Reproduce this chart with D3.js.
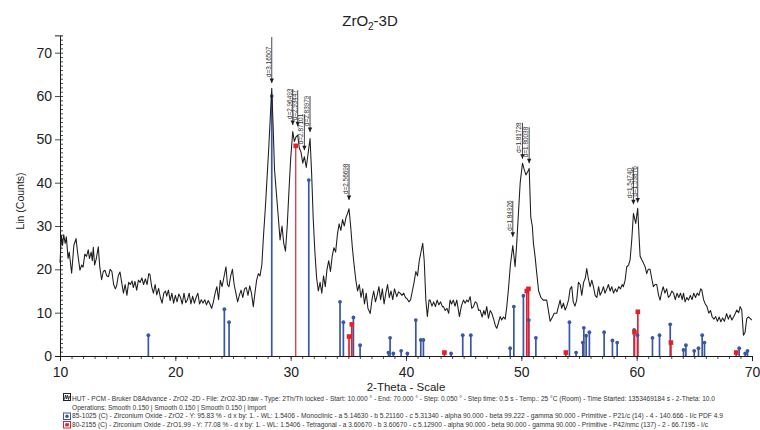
<!DOCTYPE html>
<html><head><meta charset="utf-8">
<script src="https://cdn.jsdelivr.net/npm/d3@7"></script>
<style>
body{margin:0;background:#fff;}
svg{display:block;font-family:"Liberation Sans",Arial,Helvetica,sans-serif;}
</style></head><body>
<svg id="chart" width="760" height="430"></svg>
<script>
// Measured scan: 2-theta (deg) and intensity (counts)
const twoTheta = [
10.00,10.12,10.22,10.32,10.45,10.55,10.70,10.80,11.01,11.20,11.39,11.52,11.73,11.88,12.00,12.15,12.30,12.45,12.55,12.70,12.80,12.89,13.00,13.15,13.32,13.45,13.61,13.75,13.90,14.05,14.20,14.35,14.50,14.65,14.80,14.91,15.05,15.20,15.35,15.50,15.65,15.80,15.95,16.10,16.25,16.36,16.50,16.65,16.80,16.95,17.10,17.25,17.40,17.55,17.70,17.80,17.95,18.10,18.25,18.39,18.55,18.70,18.85,19.00,19.15,19.25,19.40,19.55,19.70,19.85,20.00,20.15,20.30,20.45,20.60,20.75,20.90,21.05,21.20,21.35,21.50,21.65,21.80,21.95,22.10,22.25,22.40,22.55,22.70,22.85,23.00,23.15,23.30,23.45,23.60,23.75,23.90,24.05,24.20,24.39,24.52,24.65,24.80,24.95,25.10,25.25,25.40,25.55,25.70,25.85,26.00,26.15,26.30,26.45,26.60,26.76,26.90,27.05,27.20,27.34,27.50,27.65,27.80,27.95,28.10,28.25,28.36,28.48,28.60,28.75,28.90,29.08,29.25,29.40,29.55,29.70,29.85,30.00,30.18,30.32,30.45,30.61,30.75,30.90,31.05,31.19,31.35,31.50,31.68,31.82,31.95,32.10,32.25,32.40,32.55,32.70,32.85,33.00,33.15,33.30,33.45,33.60,33.75,33.90,34.05,34.20,34.35,34.50,34.65,34.80,34.95,35.06,35.20,35.35,35.50,35.65,35.80,35.95,36.10,36.25,36.40,36.55,36.70,36.90,37.05,37.20,37.35,37.50,37.65,37.80,37.95,38.10,38.25,38.40,38.55,38.70,38.85,39.00,39.20,39.35,39.49,39.65,39.80,39.95,40.10,40.25,40.40,40.55,40.70,40.85,41.00,41.15,41.30,41.45,41.58,41.72,41.85,42.00,42.09,42.25,42.40,42.55,42.70,42.85,43.00,43.15,43.25,43.40,43.55,43.70,43.82,43.95,44.10,44.25,44.40,44.52,44.63,44.80,44.98,45.13,45.27,45.40,45.56,45.70,45.85,46.00,46.14,46.30,46.43,46.60,46.75,46.86,47.00,47.15,47.30,47.44,47.60,47.75,47.87,48.00,48.16,48.30,48.45,48.60,48.74,48.90,49.05,49.26,49.46,49.60,49.75,49.90,50.10,50.25,50.40,50.55,50.68,50.82,50.95,51.05,51.19,51.34,51.50,51.70,51.90,52.20,52.50,52.70,52.85,53.07,53.36,53.50,53.65,53.80,53.94,54.10,54.23,54.37,54.50,54.65,54.80,54.95,55.10,55.24,55.40,55.55,55.67,55.80,55.96,56.11,56.25,56.40,56.55,56.70,56.83,57.00,57.12,57.25,57.41,57.55,57.70,57.84,58.00,58.15,58.28,58.45,58.60,58.75,58.85,59.00,59.14,59.30,59.43,59.58,59.72,59.92,60.09,60.20,60.30,60.44,60.58,60.73,60.87,61.00,61.16,61.30,61.45,61.60,61.74,61.90,62.03,62.15,62.30,62.45,62.60,62.75,62.90,63.05,63.20,63.35,63.50,63.65,63.80,63.95,64.06,64.20,64.35,64.50,64.65,64.80,64.95,65.10,65.25,65.40,65.55,65.65,65.80,65.95,66.10,66.25,66.40,66.55,66.70,66.85,67.00,67.15,67.30,67.45,67.60,67.80,67.95,68.10,68.25,68.40,68.55,68.68,68.85,68.97,69.11,69.26,69.40,69.55,69.70,69.84,69.98
];
const counts = [
21.5,27.8,25.5,28.0,26.0,27.5,22.5,24.0,19.1,25.5,27.1,24.0,19.8,21.0,20.5,23.5,23.0,24.5,22.5,24.0,22.0,25.1,21.0,22.5,25.2,20.5,17.6,19.5,19.8,18.5,18.3,20.0,19.5,16.5,15.5,16.2,18.5,19.4,17.0,14.5,16.5,14.0,17.0,16.5,17.3,15.8,17.2,15.2,17.5,17.0,18.0,16.5,17.8,16.5,19.0,18.8,16.0,14.5,16.5,14.1,15.6,13.5,12.2,14.5,15.0,13.8,15.2,12.8,14.5,12.2,14.0,12.5,14.3,13.5,12.0,14.5,12.3,13.0,14.5,12.0,13.8,12.2,13.5,14.5,12.0,13.0,12.2,13.0,11.8,12.8,12.0,11.0,12.5,14.5,16.0,13.0,17.5,16.0,18.0,20.6,16.5,16.0,18.5,20.0,16.5,14.5,12.5,14.0,15.2,13.5,15.5,15.8,14.0,16.2,14.5,11.4,14.5,17.5,19.0,18.5,21.0,28.0,34.0,41.0,48.0,56.0,61.8,53.0,43.0,38.0,33.0,26.8,30.0,26.0,24.2,30.0,38.0,45.5,51.8,49.5,50.5,51.0,48.0,47.0,44.5,46.0,43.5,46.5,50.2,42.0,32.0,24.0,18.0,15.0,17.0,14.5,18.5,16.0,20.0,22.0,19.5,23.0,25.0,24.0,28.0,30.5,29.0,31.5,30.0,32.0,33.0,34.0,30.0,25.0,21.0,17.5,15.0,16.5,13.5,15.5,12.0,14.5,11.0,9.8,13.0,15.0,12.5,14.0,16.0,13.0,15.5,12.0,14.5,16.5,13.5,15.0,13.0,15.5,13.7,14.8,14.5,14.0,14.5,13.5,13.2,12.5,13.0,15.0,17.0,19.5,18.5,22.0,24.0,26.0,22.0,13.0,9.1,12.9,12.9,11.5,12.5,11.4,12.9,11.8,12.5,11.4,11.4,10.5,11.0,9.85,12.9,12.0,12.9,11.5,12.9,11.0,9.1,11.5,12.9,12.2,12.9,12.5,13.7,11.0,11.4,12.5,12.2,10.5,10.6,9.0,10.5,9.5,11.4,8.7,10.5,9.85,8.5,7.0,6.4,7.5,9.1,8.3,9.0,8.5,11.4,16.0,21.0,25.5,20.6,26.0,33.0,40.0,44.5,43.0,41.8,42.5,43.3,32.0,30.0,26.0,23.0,19.0,15.0,13.5,12.9,12.9,8.0,9.0,9.85,9.85,12.9,11.0,12.2,10.6,11.5,13.0,15.5,16.0,12.5,11.5,12.9,17.0,16.5,14.0,17.0,18.0,20.2,18.0,16.0,17.5,16.0,14.0,13.5,16.0,14.0,15.0,16.0,14.5,15.5,16.5,15.0,16.0,14.5,15.5,14.8,16.0,15.5,16.5,16.0,17.5,20.6,21.0,22.2,27.0,32.9,30.6,34.1,28.0,23.0,22.2,21.5,20.6,19.0,20.0,20.0,18.0,16.0,16.5,16.5,14.0,12.9,14.5,16.0,14.5,15.5,13.5,14.0,15.0,14.5,13.0,14.5,13.5,14.5,13.0,14.5,12.5,13.5,12.9,14.0,13.0,14.5,13.5,14.5,14.0,15.5,15.2,13.0,12.0,11.4,9.9,10.5,9.0,8.5,9.1,8.0,9.0,7.9,8.8,8.0,9.8,8.5,9.5,8.3,9.0,9.8,10.6,10.0,11.4,10.6,4.8,5.5,8.7,9.0,8.7,8.3
];

// Reference pattern 85-1025, ZrO2 monoclinic
const monoPos = [17.66,24.25,24.66,28.36,31.57,34.28,34.57,35.44,36.02,38.48,38.62,38.90,39.58,40.12,40.85,41.28,41.51,43.91,44.92,45.62,49.03,49.35,50.18,50.65,51.26,54.17,54.75,55.33,55.42,55.62,55.90,57.18,57.90,58.31,59.78,60.07,61.37,61.98,62.91,64.06,64.27,64.99,65.36,65.68,65.88,68.89,69.41,69.61];
const monoInt = [4.8,10.8,7.8,60.0,40.6,12.5,7.8,8.9,2.5,0.8,4.2,0.6,1.2,0.6,8.3,3.7,3.7,0.6,4.8,4.8,1.8,11.4,13.9,8.3,4.2,7.8,0.8,3.1,6.5,4.7,5.5,5.5,3.6,3.1,6.0,4.8,4.2,4.8,7.3,1.4,2.5,1.2,1.8,4.8,3.1,1.8,0.6,1.2];

// Reference pattern 80-2155, ZrO1.99 tetragonal
const tetraPos = [30.44,35.06,35.30,43.33,50.47,50.62,53.86,59.81,60.10,62.97,68.63];
const tetraInt = [48.5,4.5,7.3,0.8,15.0,15.5,0.8,5.5,10.2,3.1,0.8];

// Peak search results (position, marked height, d-spacing)
const peakPos = [28.36,30.18,30.61,31.19,31.68,35.06,49.26,50.10,50.68,59.72,60.09];
const peakTip = [63.0,53.3,53.0,47.5,51.7,36.0,27.5,45.5,44.5,35.0,35.4];
const peakLabels = ["d=3.16507","d=2.96493","d=2.93447","d=2.87101","d=2.83979","d=2.56698","d=1.84926","d=1.81728","d=1.80038","d=1.54740","d=1.53876"];

const xTicks = [10,20,30,40,50,60,70];
const yTicks = [0,10,20,30,40,50,60,70];
const xTitle = "2-Theta - Scale";
const yTitle = "Lin (Counts)";

const legendLines = [
 "HUT - PCM - Bruker D8Advance - ZrO2 -2D - File: ZrO2-3D.raw - Type: 2Th/Th locked - Start: 10.000 ° - End: 70.000 ° - Step: 0.050 ° - Step time: 0.5 s - Temp.: 25 °C (Room) - Time Started: 1353469184 s - 2-Theta: 10.0",
 "Operations: Smooth 0.150 | Smooth 0.150 | Smooth 0.150 | Import",
 "85-1025 (C) - Zirconium Oxide - ZrO2 - Y: 95.83 % - d x by: 1. - WL: 1.5406 - Monoclinic - a 5.14630 - b 5.21160 - c 5.31340 - alpha 90.000 - beta 99.222 - gamma 90.000 - Primitive - P21/c (14) - 4 - 140.666 - I/c PDF 4.9",
 "80-2155 (C) - Zirconium Oxide - ZrO1.99 - Y: 77.08 % - d x by: 1. - WL: 1.5406 - Tetragonal - a 3.60670 - b 3.60670 - c 5.12900 - alpha 90.000 - beta 90.000 - gamma 90.000 - Primitive - P42/nmc (137) - 2 - 66.7195 - I/c"
];

// ---- drawing ----
const svg = d3.select("#chart");
const BLUE = "#3a57a6", RED = "#e3202a", INK = "#1c1c1c";

const x = d3.scaleLinear().domain([10, 70]).range([60, 752]);
const y = d3.scaleLinear().domain([0, 70]).range([356, 52.7]);
const yTop = 74;

// title with subscript
const title = svg.append("text").attr("x", 370).attr("y", 26)
  .attr("text-anchor", "middle").attr("font-size", 15).attr("fill", "#222");
title.append("tspan").text("ZrO");
title.append("tspan").text("2").attr("font-size", 10).attr("dy", 4);
title.append("tspan").text("-3D").attr("dy", -4);

// reference sticks
const sticks = svg.append("g");
sticks.selectAll("line.mono").data(monoPos).join("line")
  .attr("x1", d => x(d)).attr("x2", d => x(d))
  .attr("y1", y(0)).attr("y2", (d, i) => y(monoInt[i]))
  .attr("stroke", BLUE).attr("stroke-width", 1.7);
sticks.selectAll("line.tetra").data(tetraPos).join("line")
  .attr("x1", d => x(d)).attr("x2", d => x(d))
  .attr("y1", y(0)).attr("y2", (d, i) => y(tetraInt[i]))
  .attr("stroke", RED).attr("stroke-width", (d, i) => tetraInt[i] > 40 ? 1.2 : 1.7);
sticks.selectAll("circle").data(monoPos).join("circle")
  .attr("cx", d => x(d)).attr("cy", (d, i) => y(monoInt[i]))
  .attr("r", 1.9).attr("fill", BLUE);
sticks.selectAll("rect").data(tetraPos).join("rect")
  .attr("x", d => x(d) - 2.3).attr("y", (d, i) => y(tetraInt[i]) - 2.3)
  .attr("width", 4.6).attr("height", 4.6).attr("fill", RED);

// measured scan
const line = d3.line().x(d => x(d[0])).y(d => y(d[1]));
svg.append("path").datum(twoTheta.map((t, i) => [t, counts[i]]))
  .attr("d", line).attr("fill", "none").attr("stroke", INK)
  .attr("stroke-width", 1.05).attr("stroke-linejoin", "round");

// axes
const xAxis = svg.append("g").attr("transform", `translate(0,${y(0)})`)
  .call(d3.axisBottom(x).tickValues(xTicks).tickSize(5).tickFormat(d3.format("d")));
svg.append("g").attr("transform", `translate(0,${y(0)})`)
  .call(d3.axisBottom(x).tickValues(d3.range(10, 70, 1)).tickSize(3).tickFormat(""));
const yAxis = svg.append("g").attr("transform", `translate(${x(10)},0)`)
  .call(d3.axisLeft(y.copy().domain([0, yTop]).range([y(0), y(yTop)]))
    .tickValues(yTicks).tickSize(5).tickFormat(d3.format("d")));
svg.append("g").attr("transform", `translate(${x(10)},0)`)
  .call(d3.axisRight(y.copy().domain([0, yTop]).range([y(0), y(yTop)]))
    .tickValues(d3.range(0, yTop, 1)).tickSize(3).tickFormat(""));
svg.selectAll(".domain").attr("stroke", INK).attr("stroke-width", 1);
svg.selectAll(".tick line").attr("stroke", INK).attr("stroke-width", 0.8);
xAxis.selectAll("text").attr("font-size", 14).attr("fill", "#222").attr("dy", "0.95em")
  .attr("font-family", "Liberation Sans, Arial, sans-serif");
yAxis.selectAll("text").attr("font-size", 14).attr("fill", "#222")
  .attr("font-family", "Liberation Sans, Arial, sans-serif");

svg.append("text").attr("x", 406).attr("y", 391).attr("text-anchor", "middle")
  .attr("font-size", 11.5).attr("fill", "#222").text(xTitle);
svg.append("text").attr("transform", "translate(24,201) rotate(-90)")
  .attr("text-anchor", "middle").attr("font-size", 10.5).attr("fill", "#222").text(yTitle);

// peak markers: arrow with d-spacing text
const stemLen = peakPos.map((d, i) => i === 0 ? 46 : 36);
const marks = svg.append("g").selectAll("g").data(peakPos).join("g")
  .attr("transform", (d, i) => `translate(${x(d)},${y(peakTip[i])})`);
marks.append("line").attr("x1", 0).attr("x2", 0).attr("y1", 0)
  .attr("y2", (d, i) => -stemLen[i]).attr("stroke", INK).attr("stroke-width", 0.8);
marks.append("path").attr("d", "M-2.2,-4.5L2.2,-4.5L0,0Z").attr("fill", INK);
marks.append("text").attr("transform", "translate(-1,-6) rotate(-90)")
  .attr("font-size", 6.4).attr("fill", "#333").text((d, i) => peakLabels[i]);

// legend / scan information
const lg = svg.append("g").attr("font-size", 6.3).attr("fill", "#333");
const lineY = [400.5, 409.5, 418, 426.5];
const lineLen = [643, 194, 651, 636];
legendLines.forEach((t, i) => {
  lg.append("text").attr("x", 72).attr("y", lineY[i]).text(t)
    .attr("textLength", lineLen[i]).attr("lengthAdjust", "spacingAndGlyphs");
});
// icons
const ic = svg.append("g");
ic.append("rect").attr("x", 63.5).attr("y", 393.5).attr("width", 7).attr("height", 7)
  .attr("fill", "#fff").attr("stroke", "#222").attr("stroke-width", 1);
ic.append("path").attr("d", "M64.5,399.5 L65.5,395 L66.5,399 L67.5,395 L68.5,399.5 L69.5,396")
  .attr("fill", "none").attr("stroke", "#222").attr("stroke-width", 0.9);
ic.append("rect").attr("x", 63.5).attr("y", 413).attr("width", 7).attr("height", 6.5)
  .attr("fill", "#fff").attr("stroke", BLUE).attr("stroke-width", 1);
ic.append("circle").attr("cx", 67).attr("cy", 416.2).attr("r", 1.8).attr("fill", BLUE);
ic.append("rect").attr("x", 63.5).attr("y", 421.5).attr("width", 7).attr("height", 6.5)
  .attr("fill", "#fff").attr("stroke", RED).attr("stroke-width", 1);
ic.append("rect").attr("x", 65.2).attr("y", 423.2).attr("width", 3.6).attr("height", 3.2).attr("fill", RED);
</script>
</body></html>
